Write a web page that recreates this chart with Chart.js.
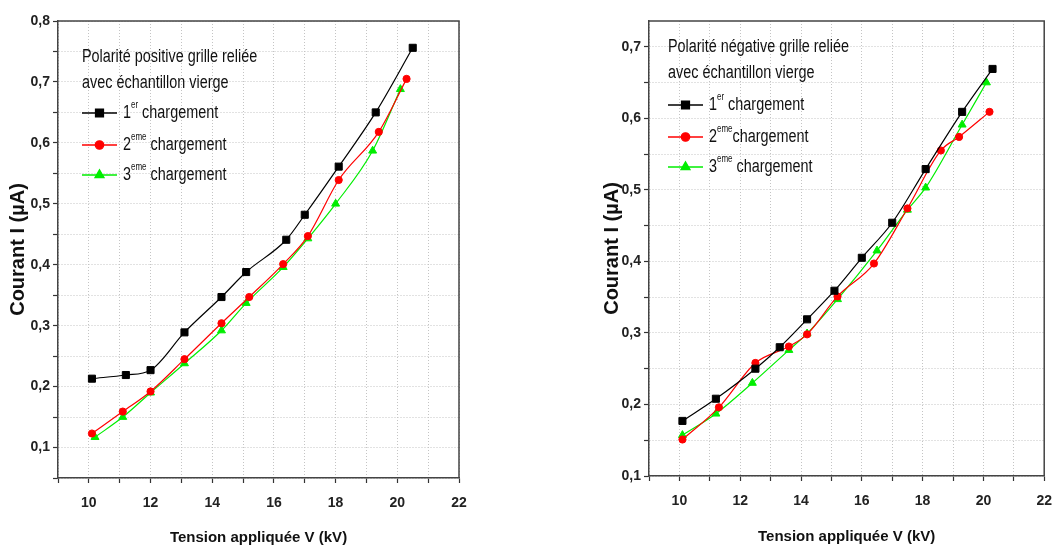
<!DOCTYPE html>
<html>
<head>
<meta charset="utf-8">
<script src="https://cdn.jsdelivr.net/npm/chart.js@4.4.0/dist/chart.umd.min.js"></script>
<style>
    html, body { margin: 0; padding: 0; background: #fff; }
    #wrap { position: relative; width: 1052px; height: 547px; overflow: hidden; }
    .panel { position: absolute; top: 0; height: 547px; }
</style>
</head>
<body>
<div id="wrap">
    <div class="panel" style="left:0;width:480px"><canvas id="posChart" width="480" height="547"></canvas></div>
    <div class="panel" style="left:480px;width:584px"><canvas id="negChart" width="584" height="547"></canvas></div>
</div>
<script>
// Tick labels
const xTickLabels = ['10', '12', '14', '16', '18', '20', '22'];
const yTickLabels = ['0,1', '0,2', '0,3', '0,4', '0,5', '0,6', '0,7', '0,8'];

// Polarité positive - voltage (kV) and current (µA) per charge
const posV1 = [10.1, 11.2, 12.0, 13.1, 14.3, 15.1, 16.4, 17.0, 18.1, 19.3, 20.5];
const posI1 = [0.213, 0.219, 0.227, 0.289, 0.347, 0.388, 0.441, 0.482, 0.561, 0.650, 0.756];
const posV2 = [10.1, 11.1, 12.0, 13.1, 14.3, 15.2, 16.3, 17.1, 18.1, 19.4, 20.3];
const posI2 = [0.123, 0.159, 0.192, 0.245, 0.304, 0.347, 0.401, 0.447, 0.539, 0.618, 0.705];
const posV3 = [10.2, 11.1, 12.0, 13.1, 14.3, 15.1, 16.3, 17.1, 18.0, 19.2, 20.1];
const posI3 = [0.117, 0.150, 0.190, 0.238, 0.292, 0.337, 0.396, 0.443, 0.500, 0.587, 0.688];

// Polarité négative
const negV1 = [10.1, 11.2, 12.5, 13.3, 14.2, 15.1, 16.0, 17.0, 18.1, 19.3, 20.3];
const negI1 = [0.177, 0.208, 0.250, 0.280, 0.319, 0.359, 0.405, 0.454, 0.529, 0.609, 0.669];
const negV2 = [10.1, 11.3, 12.5, 13.6, 14.2, 15.2, 16.4, 17.5, 18.6, 19.2, 20.2];
const negI2 = [0.151, 0.196, 0.258, 0.281, 0.298, 0.351, 0.397, 0.474, 0.555, 0.574, 0.609];
const negV3 = [10.1, 11.2, 12.4, 13.6, 14.2, 15.2, 16.5, 17.5, 18.1, 19.3, 20.1];
const negI3 = [0.157, 0.187, 0.230, 0.276, 0.299, 0.347, 0.415, 0.472, 0.503, 0.591, 0.650];

// Legend texts: [number, superscript, rest]
const posLegend = [['1', 'er', ' chargement'], ['2', 'eme', ' chargement'], ['3', 'eme', ' chargement']];
const negLegend = [['1', 'er', ' chargement'], ['2', 'eme', 'chargement'], ['3', 'eme', ' chargement']];
const posTitle = ['Polarité positive grille reliée', 'avec échantillon vierge'];
const negTitle = ['Polarité négative grille reliée', 'avec échantillon vierge'];

const FONT = "'Liberation Sans', Arial, sans-serif";

function toPoints(xs, ys) {
    return xs.map((x, i) => ({ x: x, y: ys[i] }));
}

function seriesStyle(color, style, radius) {
    return {
        borderColor: color,
        backgroundColor: color,
        borderWidth: 1.2,
        pointStyle: style,
        pointRadius: radius,
        pointBorderWidth: 1,
        cubicInterpolationMode: 'monotone',
        fill: false
    };
}

// Box around the plot (top and right edges)
const frame = {
    id: 'frame',
    afterDraw(chart) {
        const { ctx, chartArea: a } = chart;
        ctx.save();
        ctx.strokeStyle = '#444';
        ctx.lineWidth = 1.5;
        ctx.beginPath();
        ctx.moveTo(a.left, a.top);
        ctx.lineTo(a.right, a.top);
        ctx.lineTo(a.right, a.bottom);
        ctx.stroke();
        ctx.restore();
    }
};

// narrow text: squeeze horizontally like the original figure
function narrowText(ctx, text, x, y, sx) {
    ctx.save();
    ctx.translate(x, y);
    ctx.scale(sx, 1);
    ctx.fillText(text, 0, 0);
    const w = ctx.measureText(text).width * sx;
    ctx.restore();
    return w;
}

// Legend drawn inside the plot with superscripts
const insetLegend = {
    id: 'insetLegend',
    afterDatasetsDraw(chart, args, opts) {
        const ctx = chart.ctx;
        const size = opts.fontSize;
        const sx = opts.squeeze;
        ctx.save();
        ctx.textBaseline = 'middle';
        ctx.textAlign = 'left';
        ctx.fillStyle = '#111';
        ctx.font = size + 'px ' + FONT;
        opts.title.forEach((line, i) => narrowText(ctx, line, opts.x, opts.titleY[i], sx));
        chart.data.datasets.forEach((ds, i) => {
            const y = opts.rowY[i];
            ctx.strokeStyle = ds.borderColor;
            ctx.lineWidth = 1.3;
            ctx.beginPath();
            ctx.moveTo(opts.x, y);
            ctx.lineTo(opts.x + opts.lineLen, y);
            ctx.stroke();
            ctx.fillStyle = ds.backgroundColor;
            Chart.helpers.drawPoint(ctx, {
                pointStyle: ds.pointStyle,
                radius: ds.pointRadius + 0.6,
                borderWidth: 1,
                rotation: 0
            }, opts.x + opts.lineLen / 2, y);

            const parts = opts.labels[i];
            let tx = opts.x + opts.lineLen + opts.gap;
            ctx.fillStyle = '#111';
            ctx.font = size + 'px ' + FONT;
            tx += narrowText(ctx, parts[0], tx, y, sx);
            ctx.font = Math.round(size * 0.55) + 'px ' + FONT;
            tx += narrowText(ctx, parts[1], tx, y - size * 0.42, sx);
            ctx.font = size + 'px ' + FONT;
            narrowText(ctx, parts[2], tx, y, sx);
        });
        ctx.restore();
    }
};

function makeChart(id, sets, cfg) {
    const ctx = document.getElementById(id).getContext('2d');
    return new Chart(ctx, {
        type: 'line',
        data: {
            datasets: [
                Object.assign({ label: '1er chargement', data: toPoints(sets[0], sets[1]) }, seriesStyle('#000000', 'rect', 5)),
                Object.assign({ label: '2eme chargement', data: toPoints(sets[2], sets[3]) }, seriesStyle('#ff0000', 'circle', 3.6)),
                Object.assign({ label: '3eme chargement', data: toPoints(sets[4], sets[5]) }, seriesStyle('#00ee00', 'triangle', 4.6))
            ]
        },
        options: {
            responsive: false,
            animation: false,
            layout: { padding: cfg.padding },
            scales: {
                x: {
                    type: 'linear',
                    min: 9,
                    max: 22,
                    afterFit: (scale) => { scale.height = cfg.xHeight; },
                    ticks: {
                        stepSize: 1,
                        autoSkip: false,
                        maxRotation: 0,
                        padding: cfg.xTickPad,
                        color: '#222',
                        font: { family: FONT, size: 14, weight: 'bold' },
                        callback: (v) => xTickLabels.includes(String(v)) ? String(v) : ''
                    },
                    grid: {
                        color: '#c4c4c4',
                        lineWidth: 1,
                        tickLength: 5,
                        tickColor: '#333',
                        tickWidth: 1.2
                    },
                    border: { display: true, color: '#444', width: 1.5, dash: [1, 2] },
                    title: {
                        display: true,
                        text: 'Tension appliquée V (kV)',
                        color: '#111',
                        font: { family: FONT, size: 15, weight: 'bold' },
                        padding: { top: 0, bottom: cfg.xTitlePad }
                    }
                },
                y: {
                    type: 'linear',
                    min: cfg.yMin,
                    max: cfg.yMax,
                    afterFit: (scale) => { scale.width = cfg.yWidth; },
                    ticks: {
                        stepSize: 0.05,
                        includeBounds: false,
                        autoSkip: false,
                        padding: 3,
                        color: '#222',
                        font: { family: FONT, size: 14, weight: 'bold' },
                        callback: (v) => {
                            const label = (Math.round(v * 100) / 100).toFixed(2).replace(/0$/, '').replace('.', ',');
                            return yTickLabels.includes(label) ? label : '';
                        }
                    },
                    grid: {
                        color: '#c4c4c4',
                        lineWidth: 1,
                        tickLength: 5,
                        tickColor: '#333',
                        tickWidth: 1.2
                    },
                    border: { display: true, color: '#444', width: 1.5, dash: [1, 2] },
                    title: {
                        display: true,
                        text: 'Courant I (µA)',
                        color: '#111',
                        font: { family: FONT, size: 20, weight: 'bold' },
                        padding: { top: cfg.yTitlePad, bottom: 0 }
                    }
                }
            },
            plugins: {
                legend: { display: false },
                tooltip: { enabled: false },
                insetLegend: cfg.legend
            }
        },
        plugins: [frame, insetLegend]
    });
}

makeChart('posChart', [posV1, posI1, posV2, posI2, posV3, posI3], {
    padding: { left: 0, top: 21, right: 21, bottom: 0 },
    xHeight: 69,
    yWidth: 58,
    yMin: 0.05,
    yMax: 0.8,
    xTickPad: 12,
    xTitlePad: 0,
    yTitlePad: 6,
    legend: {
        x: 82, lineLen: 35, gap: 6, fontSize: 18, squeeze: 0.8,
        title: posTitle, titleY: [57, 83], rowY: [113, 145, 175],
        labels: posLegend
    }
});

makeChart('negChart', [negV1, negI1, negV2, negI2, negV3, negI3], {
    padding: { left: 112, top: 21, right: 8, bottom: 0 },
    xHeight: 71,
    yWidth: 57,
    yMin: 0.1,
    yMax: 0.736,
    xTickPad: 12,
    xTitlePad: 1,
    yTitlePad: 8,
    legend: {
        x: 188, lineLen: 35, gap: 6, fontSize: 18, squeeze: 0.8,
        title: negTitle, titleY: [47, 73], rowY: [105, 137, 167],
        labels: negLegend
    }
});
</script>
</body>
</html>
